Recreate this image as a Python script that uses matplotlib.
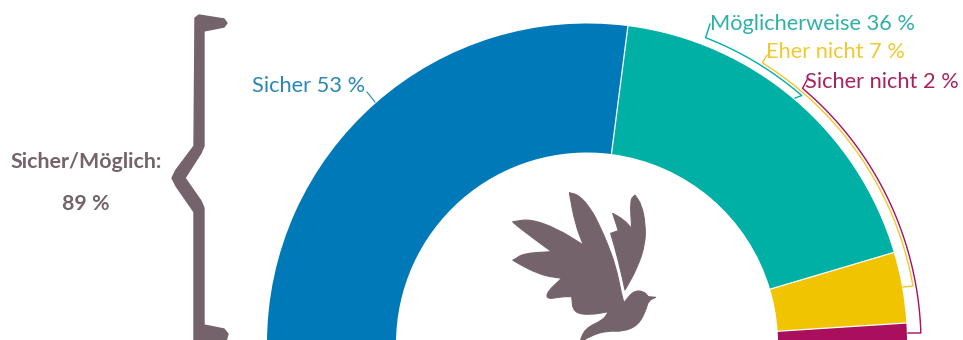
import numpy as np
import matplotlib
matplotlib.use("Agg")
import matplotlib.pyplot as plt
from matplotlib.patches import Polygon, PathPatch
from matplotlib.path import Path

labels = ["Sicher", "Möglicherweise", "Eher nicht", "Sicher nicht"]
values = [53, 36, 7, 2]
colors = ["#0079b8", "#00b0a5", "#f0c400", "#a90f5c"]
label_colors = ["#2b87b8", "#2fb0a8", "#f0c92e", "#a8225f"]
total_label = "Sicher/Möglich:"
total_value = 89

BROWN = "#75636b"
cx, cy = 587, 343.5
r_out, r_in = 320, 191

# outlines of the brace and the bird logo, in pixels
brace = [(195, 18), (199, 15), (224, 19), (227, 23), (224, 27), (204, 31), (204, 146),
         (201, 153), (185, 178), (201, 201), (204, 208), (204, 325), (224, 329), (228, 334),
         (226, 341), (194, 341), (194, 212), (176, 186), (172, 178), (176, 170), (194, 146)]
# points listed twice stay sharp when the outline gets smoothed
wing_main = [(238, 38), (238, 38), (268, 46), (305, 90), (330, 140), (350, 185), (378, 260),
             (395, 345), (402, 368), (402, 368), (430, 333), (460, 333), (475, 350), (475, 350),
             (497, 352), (497, 352), (475, 362), (468, 390), (445, 435), (400, 455), (350, 452),
             (300, 468), (268, 490), (268, 490), (285, 445), (340, 420), (355, 395), (355, 395),
             (300, 405), (250, 398), (245, 350), (245, 350), (215, 350), (170, 358), (172, 335),
             (215, 295), (215, 295), (150, 285), (65, 240), (72, 240), (100, 220), (185, 215),
             (185, 215), (130, 175), (65, 125), (72, 125), (120, 117), (200, 145), (280, 195),
             (280, 195), (255, 130), (238, 38)]
wing_back = [(435, 45), (435, 45), (455, 75), (466, 130), (466, 190), (443, 262), (405, 330),
             (405, 330), (385, 240), (362, 160), (362, 160), (385, 152), (385, 152), (368, 100),
             (368, 100), (400, 118), (425, 145), (425, 145), (420, 60), (435, 45)]


def smooth_patch(pts):
    # quadratic curves through the midpoints of the outline
    pts = np.array(pts, dtype=float)
    mids = (pts + np.roll(pts, -1, axis=0)) / 2
    verts = [mids[-1]]
    codes = [Path.MOVETO]
    for p, m in zip(pts, mids):
        verts += [p, m]
        codes += [Path.CURVE3, Path.CURVE3]
    return PathPatch(Path(verts, codes), fc=BROWN, ec=BROWN, lw=0.8, joinstyle="round")


plt.rcParams["font.family"] = "Lato"
fig = plt.figure(figsize=(9.63, 3.40), dpi=100)
ax = fig.add_axes([0, 0, 1, 1])

# half donut: the second half of the circle is left empty
ax.pie(values + [sum(values)], colors=colors + ["none"], startangle=180, radius=r_out,
       center=(cx, cy), frame=True,
       wedgeprops=dict(width=r_out - r_in, edgecolor="none"))
ax.set_xlim(0, 963)
ax.set_ylim(340, 0)
ax.axis("off")

# thin white separators between the segments
angles = np.cumsum(values)[:-1] / sum(values) * np.pi
for a in angles:
    ax.plot([cx - r_in * np.cos(a), cx - r_out * np.cos(a)],
            [cy - r_in * np.sin(a), cy - r_out * np.sin(a)], color="white", lw=0.9)


def leader(r, a0, a1, color, head, tail):
    # arc measured from 12 o'clock, with a short tick on each end
    t = np.radians(np.linspace(a0, a1, 80))
    xs = list(cx + r * np.sin(t))
    ys = list(cy - r * np.cos(t))
    xs = [head[0]] + xs + [tail[0]]
    ys = [head[1]] + ys + [tail[1]]
    ax.plot(xs, ys, color=color, lw=1.0, solid_joinstyle="round")


leader(328, 21.2, 40.9, colors[1], (710, 24), (795, 98))
leader(331, 32.0, 80.0, label_colors[2], (767, 55), (903, 287))
leader(334, 40.2, 88.2, colors[3], (807, 80), (908, 333))
ax.plot([367, 375], [92, 102], color=label_colors[0], lw=0.8)

fs = 15.7
positions = [(252, 85), (710, 23), (766, 52), (805, 81)]
for name, val, col, (x, y) in zip(labels, values, label_colors, positions):
    ax.text(x, y + 0.5, f"{name} {val} %", color=col, fontsize=fs, va="center", ha="left")

ax.add_patch(Polygon(brace, closed=True, fc=BROWN, ec=BROWN, lw=1.0, joinstyle="round"))
ax.text(86, 162, total_label, color=BROWN, fontsize=15.4, fontweight="bold", ha="center", va="center")
ax.text(86, 204, f"{total_value} %", color=BROWN, fontsize=15.4, fontweight="bold", ha="center", va="center")

# bird outline is stored at 3x, offset from its corner
for shape in (wing_main, wing_back):
    pts = [(490 + x / 3, 180 + y / 3) for x, y in shape]
    ax.add_patch(smooth_patch(pts))

fig.savefig("out.png", dpi=100)
